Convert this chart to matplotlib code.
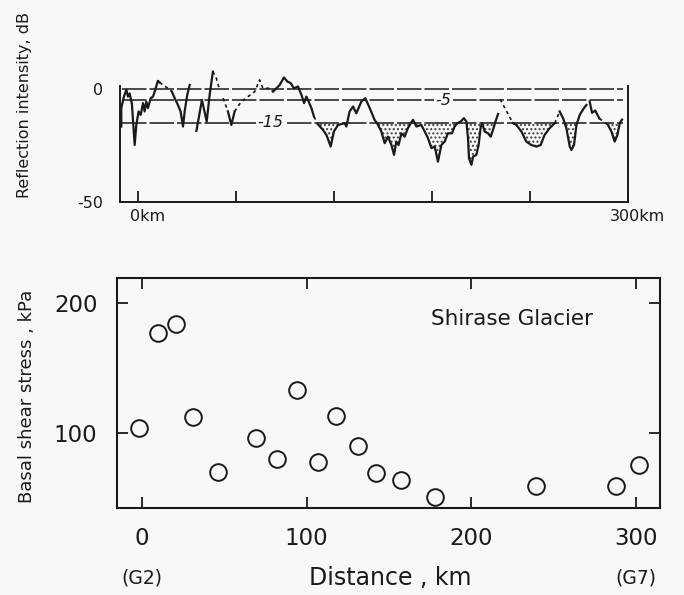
import matplotlib.pyplot as plt
import matplotlib.transforms as mtransforms
import numpy as np

nan = np.nan

# radar reflection trace (solid parts, NaN = pen lifted)
trace_km = [-10.2, -10.2, -8.6, -7.1, -6.1, -5.1, -3.7, -2.0, -1.0, 0.4, 1.7, 3.1, 4.1, 5.1, 6.1,
            7.8, 9.2, 10.6, 12.2, 13.3, nan,
            20.8, 22.5, 24.5, 26.1, 27.6, 28.6, 30.2, 31.7, nan,
            35.8, 39.2, 42.1, 43.9, 45.9, nan,
            55.1, 57.2, 59.2, nan,
            82.7, 84.8, 86.8, 89.4, 91.5, 93.5, 95.5, 98.0, 100.1, 101.7, 103.1, 104.5, 106.2, 107.8, nan,
            110.2, 113.3, 115.4, 118.0, 120.0, 122.5, 126.6, 127.6, 129.6, 131.7, 133.7, 136.8, 139.2,
            141.9, 144.9, 147.0, 149.0, 151.1, 153.1, 155.2, 156.8, 158.2, 159.6, 161.3, 163.3, 165.3,
            168.4, 170.5, 173.5, 175.6, 177.6, 179.7, 181.7, 183.7, 185.8, 187.8, 189.8, 192.3, 193.9,
            195.6, 197.6, 199.6, 201.1, 202.1, 202.7, 204.2, 205.2, 207.2, 208.6, 209.9, 210.7, 212.3,
            214.3, 216.0, 217.4, 218.9, 220.5, nan,
            229.6, 231.7, 234.8, 237.8, 240.9, 244.0, 246.6, 249.0, 252.1, 255.2, nan,
            258.2, 260.3, 262.3, 264.4, 265.4, 267.0, 268.5, 270.5, 273.1, 274.6, nan,
            276.6, 278.0, 280.0, 282.5, nan,
            287.8, 289.9, 291.9, 293.6, 295.0, 296.4]
trace_db = [-16.6, -8.4, -3.3, -0.3, -3.3, -1.9, -6.4, -24.8, -15.9, -9.9, -11.4, -6.2, -9.9, -5.5, -8.4,
            -4.0, -3.3, -0.3, 3.7, 3.0, nan,
            -1.1, -4.0, -7.0, -9.9, -16.6, -9.9, -2.5, 1.9, nan,
            -18.5, -4.8, -14.4, -2.5, 7.8, nan,
            -9.9, -15.9, -9.9, nan,
            -1.1, 0.4, 1.9, 5.2, 3.4, 2.7, 0.4, 1.2, -2.5, -6.2, -3.3, -5.5, -8.4, -12.2, nan,
            -15.6, -18.1, -20.3, -25.5, -18.8, -15.9, -15.1, -16.6, -9.9, -7.7, -10.7, -5.5, -4.0,
            -8.4, -13.6, -15.9, -18.8, -24.0, -21.1, -24.8, -29.2, -23.3, -24.8, -19.6, -21.1, -17.3,
            -13.6, -16.6, -15.9, -18.8, -21.8, -26.2, -25.5, -32.2, -24.8, -23.3, -19.6, -19.6, -16.6,
            -15.1, -14.4, -12.9, -14.4, -21.8, -30.7, -33.6, -30.0, -29.2, -24.8, -16.6, -15.1, -18.8,
            -19.6, -21.1, -18.1, -14.4, -11.0, nan,
            -15.1, -15.9, -18.8, -23.3, -24.8, -25.5, -24.8, -20.3, -17.3, -15.1, nan,
            -9.9, -12.9, -17.3, -25.5, -27.0, -24.8, -15.9, -11.4, -8.4, -7.0, nan,
            -5.5, -10.5, -9.5, -13.0, nan,
            -15.9, -18.8, -23.3, -20.3, -15.1, -13.5]

# interpolated (dashed) parts of the trace
dash_km = [13.3, 15.3, 18.4, 20.8, nan, 45.9, 48.0, 50.0, nan, 52.1, 55.1, nan,
           59.2, 63.3, 67.4, 71.5, 74.5, 76.5, 80.6, 82.7, nan, 107.8, 110.2, nan,
           221.8, 229.6, nan, 255.2, 258.2, nan, 282.5, 287.8]
dash_db = [3.0, 1.9, 0.4, -1.1, nan, 7.8, 4.9, -0.3, nan, -4.0, -9.9, nan,
           -9.9, -5.5, -3.3, -1.1, 4.1, 0.4, 0.4, -1.1, nan, -12.2, -15.6, nan,
           -4.5, -15.1, nan, -15.1, -9.9, nan, -13.0, -15.9]

ref_levels = [0, -5, -15]

# basal shear stress along the flow line
dist_km = [-2, 10, 20.5, 31, 46, 69, 82, 94, 107, 118, 131, 142, 157, 178, 239, 288, 301.6]
stress_kpa = [104, 177, 184, 112, 70, 96, 80, 133, 78, 113, 90, 69, 64, 51, 59, 59, 75]

bg = '#f8f8f6'
ink = '#1a1a1a'
plt.rcParams['hatch.linewidth'] = 1.0
plt.rcParams['hatch.color'] = '#444444'

fig = plt.figure(figsize=(6.84, 5.95), dpi=100)
fig.patch.set_facecolor(bg)

# --- top panel: reflection intensity
ax1 = fig.add_axes([0.1754, 0.661, 0.7426, 0.2345])
ax1.set_facecolor('none')

for level in ref_levels:
    ax1.hlines(level, -10, 297, colors=ink, linewidth=1.1, linestyles=(0, (16, 2)), zorder=1)
ax1.text(187, -5, '-5', ha='center', va='center', style='italic', fontsize=11.5, color=ink,
         bbox=dict(fc=bg, ec='none', pad=1), zorder=2)
ax1.text(81, -15, '-15', ha='center', va='center', style='italic', fontsize=11.5, color=ink,
         bbox=dict(fc=bg, ec='none', pad=1), zorder=2)

x = np.array(trace_km)
y = np.array(trace_db)
ax1.fill_between(x, y, -15, where=(y < -15) & (x > 100), interpolate=True,
                 facecolor='none', edgecolor='#444444', hatch='....', linewidth=0, zorder=1)
ax1.plot(trace_km, trace_db, color=ink, linewidth=1.6, zorder=3)
ax1.plot(dash_km, dash_db, color=ink, linewidth=1.2, linestyle=(0, (2, 2)), zorder=3)

ax1.set_xlim(-11, 300)
ax1.set_ylim(-50, 12)
ax1.spines['top'].set_visible(False)
for side in ['left', 'right']:
    ax1.spines[side].set_bounds(-50, 1.5)
for sp in ax1.spines.values():
    sp.set_linewidth(1.4)
    sp.set_color(ink)
ax1.set_xticks([0, 60, 120, 180, 240, 300])
ax1.set_xticklabels(['0km', '', '', '', '', '300km'])
ax1.set_yticks([0, -50])
ax1.set_yticklabels(['0', '-50'])
ax1.tick_params(axis='x', direction='in', length=8, width=1.3, pad=5, labelsize=11.5, colors=ink)
ax1.tick_params(axis='y', length=0, pad=12, labelsize=11.5, colors=ink)
offset = mtransforms.ScaledTranslation(7 / 72, 0, fig.dpi_scale_trans)
for lab in ax1.get_xticklabels():
    lab.set_transform(lab.get_transform() + offset)
fig.text(0.0365, 0.8235, 'Reflection intensity, dB', rotation=90, ha='center', va='center',
         fontsize=11.5, color=ink)

# --- bottom panel: basal shear stress
ax2 = fig.add_axes([0.171, 0.1462, 0.794, 0.3866])
ax2.set_facecolor('none')
ax2.plot(dist_km, stress_kpa, linestyle='none', marker='o', markersize=12,
         markerfacecolor='none', markeredgecolor=ink, markeredgewidth=1.4)
ax2.set_xlim(-15.2, 314.5)
ax2.set_ylim(42.3, 219.2)
ax2.set_xticks([0, 100, 200, 300])
ax2.set_yticks([100, 200])
ax2.tick_params(direction='in', length=8, width=1.3, top=True, right=True,
                labelsize=16.5, pad=14, colors=ink)
for sp in ax2.spines.values():
    sp.set_linewidth(1.5)
    sp.set_color(ink)
ax2.text(0.727, 0.822, 'Shirase Glacier', transform=ax2.transAxes, ha='center', va='center',
         fontsize=15.5, color=ink)

fig.text(0.570, 0.0286, 'Distance , km', ha='center', va='center', fontsize=17, color=ink)
fig.text(0.2076, 0.0286, '(G2)', ha='center', va='center', fontsize=13.5, color=ink)
fig.text(0.930, 0.0286, '(G7)', ha='center', va='center', fontsize=13.5, color=ink)
fig.text(0.0395, 0.333, 'Basal shear stress , kPa', rotation=90, ha='center', va='center',
         fontsize=13, color=ink)

plt.savefig('out.png', dpi=100, facecolor=bg)
